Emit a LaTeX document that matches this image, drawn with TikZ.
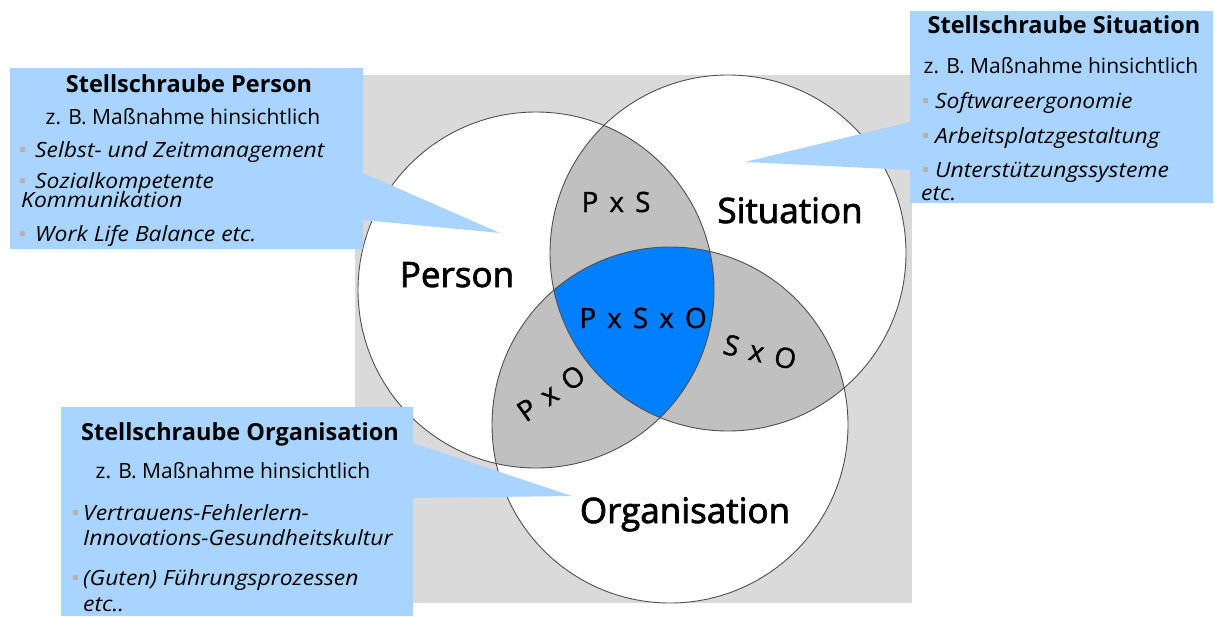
\documentclass[tikz,border=0pt]{standalone}
\usepackage{fontspec}
\setmainfont{Open Sans}
\newfontfamily\itemfont{Open Sans}[FakeStretch=1.09]
\newfontfamily\setfont{Open Sans}[FakeBold=2.2]
\newfontfamily\pairfont{Open Sans}[FakeBold=1.2]
\definecolor{calloutblue}{RGB}{168,212,255}
\definecolor{panelgray}{RGB}{218,218,218}
\definecolor{overlapgray}{RGB}{192,192,192}
\definecolor{coreblue}{RGB}{0,128,255}
\definecolor{rimgray}{RGB}{80,80,80}
\definecolor{bulletgray}{RGB}{178,178,178}
% small square bullet hanging left of the item text
\newcommand\bulletmark[1]{\llap{\textcolor{bulletgray}{\rule[5pt]{5pt}{5pt}}\hspace{#1pt}}}
\newcommand\wsp{\hspace{11pt}}
\begin{document}
\begin{tikzpicture}[x=1pt,y=-1pt,
  title/.style={inner sep=0pt, anchor=base, font=\fontsize{23.5}{28}\selectfont\bfseries},
  lead/.style={inner sep=0pt, anchor=base, font=\fontsize{21}{25}\selectfont},
  item/.style={inner sep=0pt, anchor=base west, font=\itemfont\fontsize{21}{25}\selectfont\itshape},
  setlabel/.style={inner sep=0pt, anchor=base, font=\setfont\fontsize{35}{40}\selectfont},
  pairlabel/.style={inner sep=0pt, font=\pairfont\fontsize{28}{32}\selectfont},
  rim/.style={draw=rimgray, line width=0.9pt}]
\useasboundingbox (0,0) rectangle (1215,616);

% panel behind the diagram
\fill[panelgray] (355,75) rectangle (912,603);

% centres of the three sets
\coordinate (cP) at (536,290);
\coordinate (cS) at (728,253);
\coordinate (cO) at (670,425);
\def\rr{178pt}

% white discs
\fill[white] (cP) circle[radius=\rr];
\fill[white] (cS) circle[radius=\rr];
\fill[white] (cO) circle[radius=\rr];

% pairwise overlaps
\begin{scope}
  \clip (cP) circle[radius=\rr];
  \fill[overlapgray] (cS) circle[radius=\rr];
  \fill[overlapgray] (cO) circle[radius=\rr];
\end{scope}
\begin{scope}
  \clip (cS) circle[radius=\rr];
  \fill[overlapgray] (cO) circle[radius=\rr];
\end{scope}
% triple overlap
\begin{scope}
  \clip (cP) circle[radius=\rr];
  \clip (cS) circle[radius=\rr];
  \fill[coreblue] (cO) circle[radius=\rr];
\end{scope}

% outlines
\draw[rim] (cP) circle[radius=\rr];
\draw[rim] (cS) circle[radius=\rr];
\draw[rim] (cO) circle[radius=\rr];

% callouts with pointers
\fill[calloutblue] (10,68) -- (363,68) -- (363,173) -- (500,233) -- (363,220)
  -- (363,249) -- (10,249) -- cycle;
\fill[calloutblue] (910,11) -- (1213,11) -- (1213,203) -- (910,203) -- (910,170)
  -- (745,162) -- (910,122) -- cycle;
\fill[calloutblue] (61,407) -- (413,407) -- (413,443) -- (572,496) -- (413,498)
  -- (413,616) -- (61,616) -- cycle;

% set labels
\node[setlabel] (person) at (457,287) {Person};
\node[setlabel] (situation) at (790,223) {Situation};
\node[setlabel] (organisation) at (685,523) {Organisation};

% intersection labels
\node[pairlabel, anchor=base] (ps) at (616,212) {P\wsp x\wsp S};
\node[pairlabel, anchor=base] (pso) at (643,328) {P\wsp x\wsp S\wsp x\wsp O};
\node[pairlabel, rotate=-13] (so) at (760,352) {S\wsp x\wsp O};
\node[pairlabel, rotate=35] (po) at (551,393) {P\wsp x\wsp O};

% callout: person
\node[title] (tP) at (189,92) {Stellschraube Person};
\node[lead] (lP) at (183,124) {z. B. Maßnahme hinsichtlich};
\node[item] (iP1) at (35,157) {\bulletmark{10}Selbst- und Zeitmanagement};
\node[item] (iP2) at (35,188) {\bulletmark{10}Sozialkompetente};
\node[item] (iP2b) at (21,207) {Kommunikation};
\node[item] (iP3) at (35,241) {\bulletmark{10}Work Life Balance etc.};

% callout: situation
\node[title] (tS) at (1064,33) {Stellschraube Situation};
\node[lead] (lS) at (1061,73) {z. B. Maßnahme hinsichtlich};
\node[item] (iS1) at (935,108) {\bulletmark{7}Softwareergonomie};
\node[item] (iS2) at (935,143) {\bulletmark{7}Arbeitsplatzgestaltung};
\node[item] (iS3) at (935,177) {\bulletmark{7}Unterstützungssysteme};
\node[item] (iS3b) at (921,200) {etc.};

% callout: organisation
\node[title] (tO) at (240,440) {Stellschraube Organisation};
\node[lead] (lO) at (233,478) {z. B. Maßnahme hinsichtlich};
\node[item] (iO1) at (83,520) {\bulletmark{5}Vertrauens-Fehlerlern-};
\node[item] (iO1b) at (83,545) {Innovations-Gesundheitskultur};
\node[item] (iO2) at (83,585) {\bulletmark{5}(Guten) Führungsprozessen};
\node[item] (iO2b) at (83,611) {etc..};
\end{tikzpicture}
\end{document}
